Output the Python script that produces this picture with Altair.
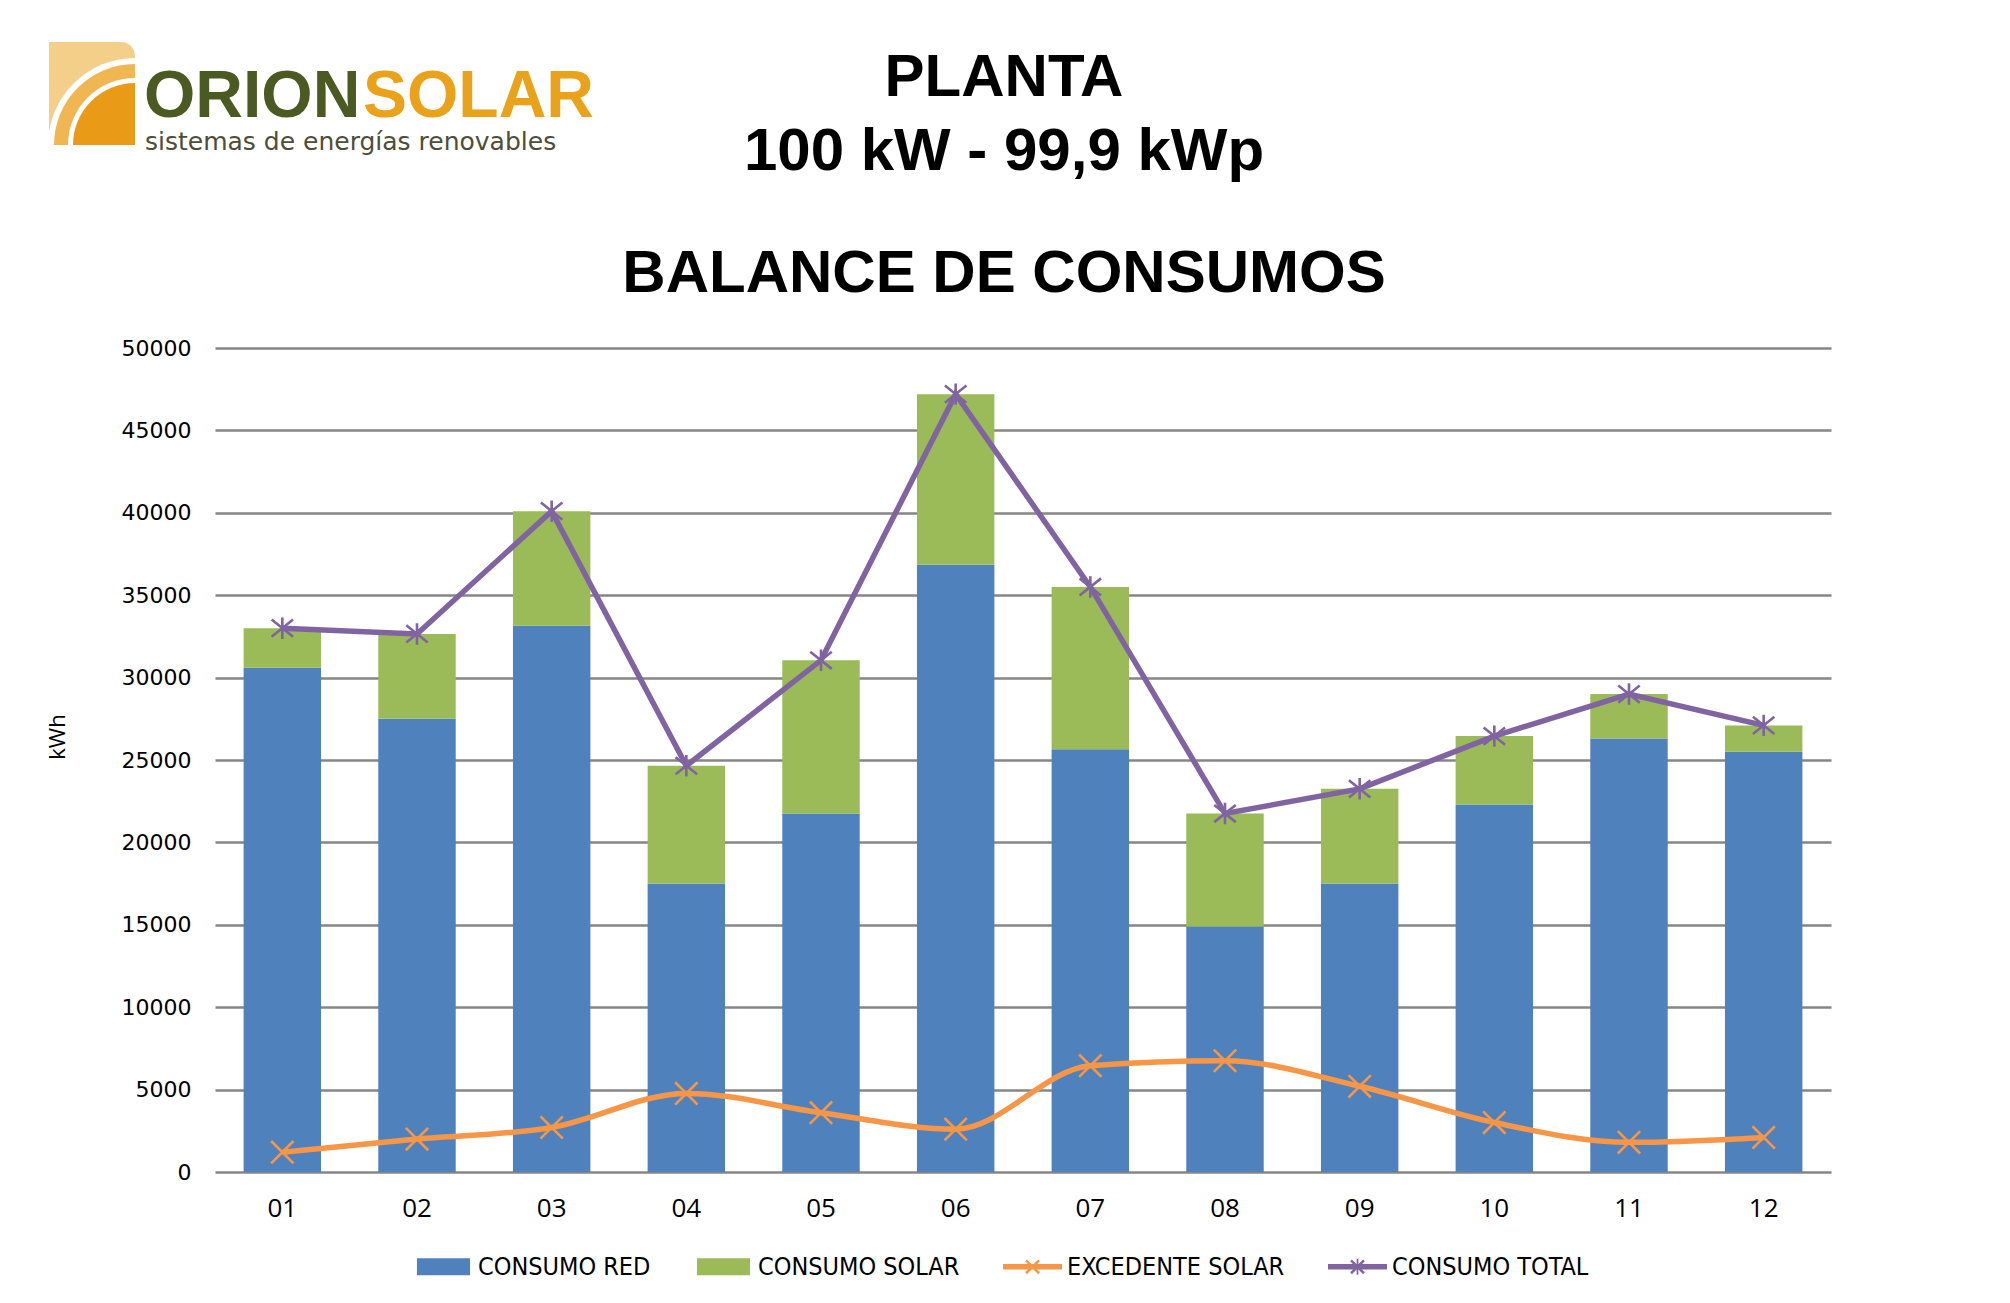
import altair as alt
import pandas as pd

# ---------------- data ----------------
meses = ["01", "02", "03", "04", "05", "06", "07", "08", "09", "10", "11", "12"]
consumo_red = [30600, 27500, 33150, 17500, 21750, 36850, 25650, 14900, 17500, 22300, 26300, 25500]
consumo_solar = [2400, 5150, 6950, 7150, 9300, 10350, 9850, 6850, 5750, 4150, 2700, 1600]
excedente_solar = [1200, 2000, 2700, 4770, 3600, 2600, 6450, 6750, 5200, 3000, 1800, 2100]
consumo_total = [33000, 32650, 40100, 24650, 31050, 47200, 35500, 21750, 23250, 26450, 29000, 27100]

series = ["CONSUMO RED", "CONSUMO SOLAR", "EXCEDENTE SOLAR", "CONSUMO TOTAL"]
colores = ["#4F81BD", "#9BBB59", "#F79646", "#8064A2"]
y_ticks = [0, 5000, 10000, 15000, 20000, 25000, 30000, 35000, 40000, 45000, 50000]

titulo_1 = "PLANTA"
titulo_2 = "100 kW - 99,9 kWp"
titulo_3 = "BALANCE DE CONSUMOS"
eje_y = "kWh"
logo_a = "ORION"
logo_b = "SOLAR"
logo_sub = "sistemas de energías renovables"

# ---------------- tables ----------------
bars_df = pd.DataFrame({
    "mes": meses * 2,
    "serie": [series[0]] * len(meses) + [series[1]] * len(meses),
    "valor": consumo_red + consumo_solar,
    "orden": [0] * len(meses) + [1] * len(meses),
})
lines_df = pd.DataFrame({"mes": meses, "excedente": excedente_solar, "total": consumo_total})
legend_df = pd.DataFrame({"serie": series})
one = pd.DataFrame({"k": [0]})

W, H = 1616, 824
LEFT, TOP = 215, 348  # page position of plot origin (incl. 8px margin)
NARROW = "Liberation Sans Narrow, DejaVu Sans Condensed, Arial Narrow, sans-serif"

x_scale = alt.Scale(domain=meses, paddingInner=0.425, paddingOuter=0.2125)
y_scale = alt.Scale(domain=[0, 50000], nice=False, zero=True)

x_axis = alt.Axis(title=None, labelAngle=0, labelFont="Open Sans", labelFontSize=26,
                  labelColor="#000000", labelPadding=23, ticks=False, tickSize=0,
                  domain=False, grid=False)
y_axis = alt.Axis(values=y_ticks, format="d", title=None,
                  labelFont="DejaVu Sans", labelFontSize=22, labelColor="#000000",
                  labelPadding=24, ticks=False, tickSize=0, domain=False,
                  grid=True, gridColor="#868686", gridWidth=2.3)

X_ENC = alt.X("mes:N", scale=x_scale, sort=meses, axis=x_axis)

bars = alt.Chart(bars_df).mark_bar().encode(
    x=X_ENC,
    y=alt.Y("valor:Q", stack="zero", scale=y_scale, axis=y_axis),
    color=alt.Color("serie:N", scale=alt.Scale(domain=series, range=colores), legend=None),
    order=alt.Order("orden:Q", sort="ascending"),
)

orange_line = alt.Chart(lines_df).mark_line(color=colores[2], strokeWidth=5.5, interpolate="monotone").encode(
    x=X_ENC, y=alt.Y("excedente:Q", scale=y_scale, axis=y_axis))
purple_line = alt.Chart(lines_df).mark_line(color=colores[3], strokeWidth=5.5).encode(
    x=X_ENC, y=alt.Y("total:Q", scale=y_scale, axis=y_axis))

X_PATH = "M-1,-1L1,1M-1,1L1,-1"
STAR_PATH = "M-1,-0.8L1,0.8M-1,0.8L1,-0.8M0,-1L0,1"

orange_pts = alt.Chart(lines_df).mark_point(shape=X_PATH, size=500, filled=False, strokeWidth=2.6,
                                            color=colores[2], opacity=1).encode(
    x=X_ENC, y=alt.Y("excedente:Q", scale=y_scale, axis=y_axis))
purple_pts = alt.Chart(lines_df).mark_point(shape=STAR_PATH, size=460, filled=False, strokeWidth=2.6,
                                            color=colores[3], opacity=1).encode(
    x=X_ENC, y=alt.Y("total:Q", scale=y_scale, axis=y_axis))

# legend (one combined legend, mixed symbols drawn as filled polygons)
RECT_SYM = "M-0.9,-0.29H0.9V0.29H-0.9Z"
LINE_SYM = "M-1,-0.09H1V0.09H-1Z"
X_SYM = ("M-0.19,-0.25L0.25,0.19L0.19,0.25L-0.25,-0.19Z"
         "M-0.25,0.19L0.19,-0.25L0.25,-0.19L-0.19,0.25Z")
V_SYM = "M-0.03,-0.27H0.03V0.27H-0.03Z"
legend_shapes = [RECT_SYM, RECT_SYM, LINE_SYM + X_SYM, LINE_SYM + X_SYM + V_SYM]

leg = alt.Legend(title=None, orient="none", legendX=199, legendY=889, direction="horizontal",
                 columns=4, labelFont=NARROW,
                 labelFontSize=25, labelColor="#000000", labelOffset=5, labelLimit=500,
                 symbolSize=3481, symbolStrokeWidth=0, columnPadding=43, padding=0,
                 symbolOpacity=1)

# the legend layer's own points sit far outside the page; only its legend is seen
legend_layer = alt.Chart(legend_df).mark_point(filled=True, strokeWidth=0, size=10).encode(
    x=alt.value(-3000), y=alt.value(-3000),
    color=alt.Color("serie:N", scale=alt.Scale(domain=series, range=colores), legend=leg),
    shape=alt.Shape("serie:N", scale=alt.Scale(domain=series, range=legend_shapes), legend=leg),
)

# titles
def title_text(txt, y_page):
    return alt.Chart(one).mark_text(text=txt, font="Liberation Sans", fontSize=60, fontWeight="bold",
                                    color="#000000", align="center", baseline="alphabetic").encode(
        x=alt.value(1004 - LEFT), y=alt.value(y_page - TOP))

t1 = title_text(titulo_1, 96)
t2 = title_text(titulo_2, 170)
t3 = title_text(titulo_3, 292)

y_title = alt.Chart(one).mark_text(text=eje_y, font="Open Sans", fontSize=22, color="#000000",
                                   angle=270, align="center", baseline="middle").encode(
    x=alt.value(58 - LEFT), y=alt.value(737 - TOP))

# logo
ICON_CX, ICON_CY = 135 - LEFT, 145 - TOP
icon_bg = alt.Chart(one).mark_rect(color="#F4CF8A", cornerRadiusTopRight=14).encode(
    x=alt.value(49 - LEFT), x2=alt.value(135 - LEFT), y=alt.value(42 - TOP), y2=alt.value(145 - TOP))

def icon_arc(r, col):
    return alt.Chart(one).mark_arc(color=col).encode(
        x=alt.value(ICON_CX), y=alt.value(ICON_CY),
        theta=alt.value(4.7124), theta2=alt.value(6.2832),
        radius=alt.value(r), radius2=alt.value(0))

arcs = [icon_arc(87, "#FFFFFF"), icon_arc(81, "#EFB651"), icon_arc(67, "#FFFFFF"), icon_arc(62, "#E99B18")]

logo1 = alt.Chart(one).mark_text(text=logo_a, font="Liberation Sans", fontSize=66, fontWeight="bold",
                                 color="#4B5A23", align="left", baseline="alphabetic").encode(
    x=alt.value(144 - LEFT), y=alt.value(117 - TOP))
logo2 = alt.Chart(one).mark_text(text=logo_b, font="Liberation Sans", fontSize=66, fontWeight="bold",
                                 color="#E9A21A", align="left", baseline="alphabetic").encode(
    x=alt.value(363 - LEFT), y=alt.value(117 - TOP))
logo3 = alt.Chart(one).mark_text(text=logo_sub, font="DejaVu Sans", fontSize=25,
                                 color="#4D4D3A", align="left", baseline="alphabetic").encode(
    x=alt.value(145 - LEFT), y=alt.value(150 - TOP))

chart = alt.layer(
    bars, legend_layer, orange_line, purple_line, orange_pts, purple_pts,
    t1, t2, t3, y_title, icon_bg, *arcs, logo1, logo2, logo3,
).resolve_scale(
    color="independent", shape="independent"
).properties(
    width=W, height=H,
    autosize=alt.AutoSizeParams(type="none"),
    padding={"left": LEFT - 8, "top": TOP - 8, "right": 160, "bottom": 122},
    background="#FFFFFF",
).configure_view(stroke=None)

chart.save("out.html", embed_options={"renderer": "svg", "actions": False})
